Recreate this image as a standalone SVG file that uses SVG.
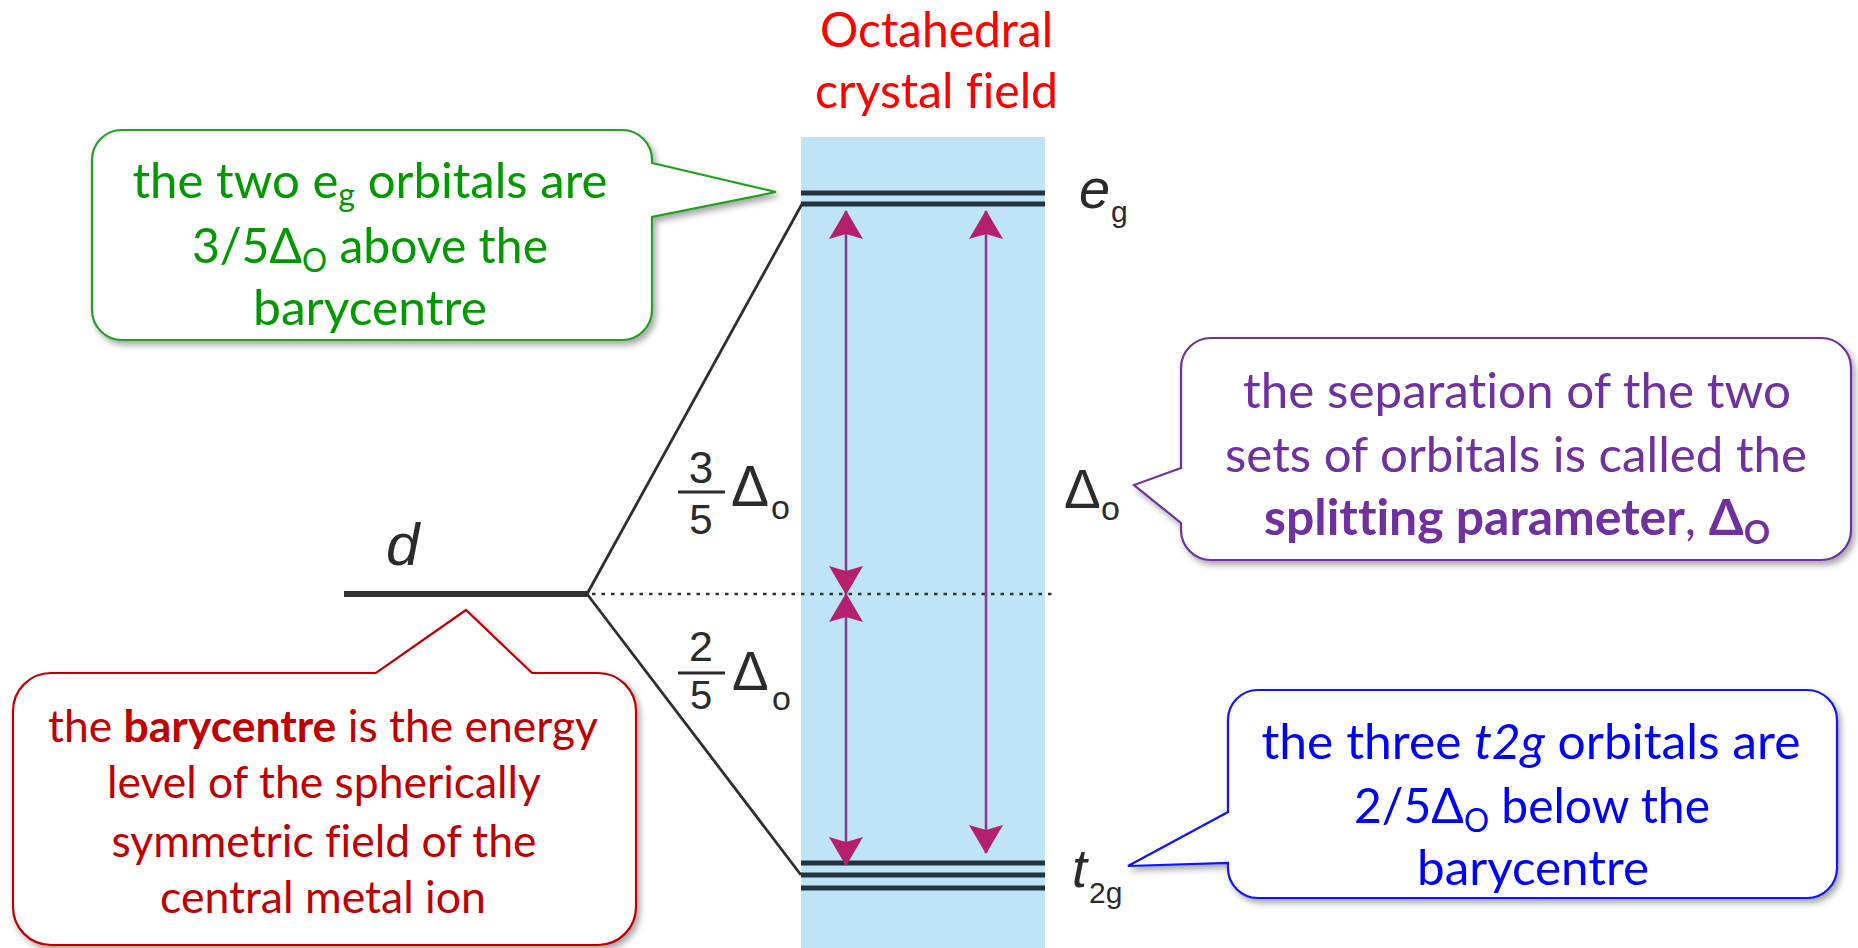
<svg xmlns="http://www.w3.org/2000/svg" width="1858" height="948" viewBox="0 0 1858 948">
<style>
.lvl{stroke:#22343e;stroke-width:5;fill:none}
.diag{stroke:#2e2e2e;stroke-width:2.8;fill:none}
.arr{stroke:#8a3d8f;stroke-width:2.6;fill:none;marker-start:url(#ah);marker-end:url(#ah)}
.lab{font-family:"Liberation Sans",Arial,sans-serif;fill:#2b2b2b}
.cal{font-family:Lato,"Noto Sans",sans-serif;text-anchor:middle;font-variant-ligatures:none}
.box{stroke-width:2.2;fill:#ffffff;filter:url(#sh)}
</style>
<defs>
<marker id="ah" markerUnits="userSpaceOnUse" viewBox="0 -18 29 36" refX="28" refY="0" markerWidth="29" markerHeight="36" orient="auto-start-reverse">
<path d="M29,0 L0,-17 L5,0 L0,17 Z" fill="#b4206c"/>
</marker>
<filter id="sh" x="-10%" y="-10%" width="125%" height="130%">
<feDropShadow dx="3" dy="4" stdDeviation="3" flood-color="#000" flood-opacity="0.35"/>
</filter>
</defs>
<rect width="1858" height="948" fill="#ffffff"/>
<g id="band"><rect x="801" y="137" width="244" height="811" fill="#bfe4f8"/></g>
<g id="title">
<text class="cal" x="936.5" y="47" font-size="48" fill="#ff0000" textLength="233" lengthAdjust="spacingAndGlyphs">Octahedral</text>
<text class="cal" x="936.5" y="108" font-size="48" fill="#ff0000" textLength="243" lengthAdjust="spacingAndGlyphs">crystal field</text>
</g>
<g id="d-level">
<line class="lvl" x1="344" y1="594" x2="587" y2="594" style="stroke:#333;stroke-width:6"/>
<text class="lab" x="386" y="565" font-size="60" font-style="italic">d</text>
</g>
<g id="eg-level">
<line class="lvl" x1="801" y1="193" x2="1045" y2="193"/>
<line class="lvl" x1="801" y1="204" x2="1045" y2="204"/>
<text class="lab" x="1079" y="208" font-size="56" font-style="italic">e</text>
<text class="lab" x="1111" y="222" font-size="30">g</text>
</g>
<g id="t2g-level">
<line class="lvl" x1="801" y1="863" x2="1045" y2="863"/>
<line class="lvl" x1="801" y1="875" x2="1045" y2="875"/>
<line class="lvl" x1="801" y1="888" x2="1045" y2="888"/>
<text class="lab" x="1072" y="887" font-size="54" font-style="italic">t</text>
<text class="lab" x="1089" y="903" font-size="30">2g</text>
</g>
<g id="frac-35">
<text class="lab" x="701" y="483" font-size="44" text-anchor="middle">3</text>
<line x1="678" y1="492" x2="725" y2="492" stroke="#2b2b2b" stroke-width="3.2"/>
<text class="lab" x="701" y="534" font-size="42" text-anchor="middle">5</text>
<text class="lab" x="731" y="506" font-size="57">Δ</text>
<text class="lab" x="771" y="519" font-size="34">o</text>
</g>
<g id="frac-25">
<text class="lab" x="701" y="661" font-size="43" text-anchor="middle">2</text>
<line x1="678" y1="673" x2="725" y2="673" stroke="#2b2b2b" stroke-width="3.2"/>
<text class="lab" x="701" y="709" font-size="40" text-anchor="middle">5</text>
<text class="lab" x="732" y="690" font-size="55">Δ</text>
<text class="lab" x="772" y="710" font-size="34">o</text>
</g>
<g id="delta-o">
<text class="lab" x="1064" y="508" font-size="55">Δ</text>
<text class="lab" x="1101" y="520" font-size="34">o</text>
</g>
<g id="connectors">
<line class="diag" x1="587" y1="594" x2="802" y2="204"/>
<line class="diag" x1="587" y1="594" x2="801" y2="875"/>
<line x1="592" y1="594" x2="1052" y2="594" stroke="#333" stroke-width="2.5" stroke-dasharray="3.5 6"/>
<line class="arr" x1="846" y1="211" x2="846" y2="594"/>
<line class="arr" x1="846" y1="594" x2="846" y2="865"/>
<line class="arr" x1="986" y1="211" x2="986" y2="853"/>
</g>
<g id="callout-eg">
<path class="box" stroke="#22a022" d="M122,130 H622 A30,30 0 0 1 652,160 V163 L776,192 L652,217 V310 A30,30 0 0 1 622,340 H122 A30,30 0 0 1 92,310 V160 A30,30 0 0 1 122,130 Z"/>
<g fill="#009a00" font-size="49">
<text class="cal" x="370" y="198" textLength="475" lengthAdjust="spacingAndGlyphs">the two e<tspan font-size="32" dy="8">g</tspan><tspan dy="-8"> orbitals are</tspan></text>
<text class="cal" x="370" y="263" textLength="356" lengthAdjust="spacingAndGlyphs">3/5Δ<tspan font-size="32" dy="9">O</tspan><tspan dy="-9"> above the</tspan></text>
<text class="cal" x="370" y="325" textLength="234" lengthAdjust="spacingAndGlyphs">barycentre</text>
</g>
</g>
<g id="callout-split">
<path class="box" stroke="#7030a0" d="M1211,338 H1821 A30,30 0 0 1 1851,368 V530 A30,30 0 0 1 1821,560 H1211 A30,30 0 0 1 1181,530 V523 L1134,485 L1181,468 V368 A30,30 0 0 1 1211,338 Z"/>
<g fill="#7030a0" font-size="49">
<text class="cal" x="1517" y="408" textLength="548" lengthAdjust="spacingAndGlyphs">the separation of the two</text>
<text class="cal" x="1516" y="472" textLength="582" lengthAdjust="spacingAndGlyphs">sets of orbitals is called the</text>
<text class="cal" x="1517" y="535" textLength="506" lengthAdjust="spacingAndGlyphs"><tspan font-weight="bold">splitting parameter</tspan>, <tspan font-weight="bold">Δ</tspan><tspan font-weight="bold" font-size="32" dy="9">O</tspan></text>
</g>
</g>
<g id="callout-bary">
<path class="box" stroke="#c00000" d="M51,673 H376 L466,610 L532,673 H598 A38,38 0 0 1 636,711 V907 A38,38 0 0 1 598,945 H51 A38,38 0 0 1 13,907 V711 A38,38 0 0 1 51,673 Z"/>
<g fill="#c00000" font-size="44">
<text class="cal" x="323" y="742" textLength="550" lengthAdjust="spacingAndGlyphs">the <tspan font-weight="bold">barycentre</tspan> is the energy</text>
<text class="cal" x="324" y="798" textLength="434" lengthAdjust="spacingAndGlyphs">level of the spherically</text>
<text class="cal" x="324" y="857" textLength="425" lengthAdjust="spacingAndGlyphs">symmetric field of the</text>
<text class="cal" x="323" y="913" textLength="326" lengthAdjust="spacingAndGlyphs">central metal ion</text>
</g>
</g>
<g id="callout-t2g">
<path class="box" stroke="#0a14ff" d="M1258,690 H1807 A30,30 0 0 1 1837,720 V868 A30,30 0 0 1 1807,898 H1258 A30,30 0 0 1 1228,868 V863 L1128,866 L1228,812 V720 A30,30 0 0 1 1258,690 Z"/>
<g fill="#0000ff" font-size="49">
<text class="cal" x="1531" y="759" textLength="539" lengthAdjust="spacingAndGlyphs">the three <tspan font-style="italic">t2g</tspan> orbitals are</text>
<text class="cal" x="1532" y="823" textLength="356" lengthAdjust="spacingAndGlyphs">2/5Δ<tspan font-size="32" dy="9">O</tspan><tspan dy="-9"> below the</tspan></text>
<text class="cal" x="1533" y="885" textLength="232" lengthAdjust="spacingAndGlyphs">barycentre</text>
</g>
</g>
</svg>
